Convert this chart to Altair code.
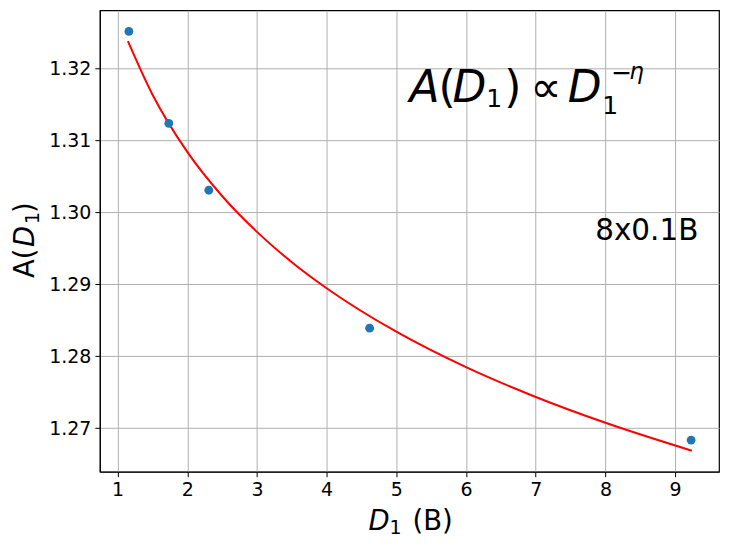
import altair as alt
import pandas as pd

# Measured data points
d1_points = [1.162, 1.735, 2.309, 4.617, 9.23]
a_points = [1.32514, 1.31236, 1.30306, 1.28389, 1.26833]

# Fitted curve
d1_fit = [1.148, 1.5, 2.0, 2.5, 3.0, 3.5, 4.0, 5.0, 6.0, 7.0, 8.0, 9.24]
a_fit = [1.32379, 1.31637, 1.30839, 1.30226, 1.29727, 1.29306, 1.28944,
         1.28339, 1.27846, 1.27432, 1.27073, 1.26685]

x_ticks = [1, 2, 3, 4, 5, 6, 7, 8, 9]
y_ticks = [1.27, 1.28, 1.29, 1.30, 1.31, 1.32]

pts = pd.DataFrame({"x": d1_points, "y": a_points})
fit = pd.DataFrame({"x": d1_fit, "y": a_fit})

FONT = "DejaVu Sans"
xscale = alt.Scale(domain=[0.746, 9.63], nice=False, zero=False)
yscale = alt.Scale(domain=[1.26393, 1.32806], nice=False, zero=False)

common_axis = dict(grid=True, gridColor="#b0b0b0", gridWidth=1,
                   domainColor="black", tickColor="black", tickSize=5,
                   labelFontSize=19, labelColor="black", labelPadding=4,
                   labelFont=FONT, title=None)
xaxis = alt.Axis(values=x_ticks, format="d", **common_axis)
yaxis = alt.Axis(values=y_ticks, format=".2f", **common_axis)

line = alt.Chart(fit).mark_line(color="red", strokeWidth=2,
                                interpolate="monotone").encode(
    x=alt.X("x:Q", scale=xscale, axis=xaxis),
    y=alt.Y("y:Q", scale=yscale, axis=yaxis),
)
scatter = alt.Chart(pts).mark_circle(color="#1f77b4", size=78, opacity=1).encode(
    x=alt.X("x:Q", scale=xscale),
    y=alt.Y("y:Q", scale=yscale),
)

# text pieces: (text, px from plot left, px from plot top, size, style, angle)
pieces = [
    # formula
    ("A", 310, 91.7, 44, "italic", 0),
    ("(", 339, 91.7, 44, "normal", 0),
    ("D", 353, 91.7, 44, "italic", 0),
    ("1", 387, 96.7, 25, "normal", 0),
    (")", 405, 91.7, 44, "normal", 0),
    ("∝", 431, 91.7, 44, "normal", 0),
    ("D", 468.5, 91.7, 44, "italic", 0),
    ("1", 503, 103.3, 25, "normal", 0),
    ("−", 512, 71, 25, "normal", 0),
    ("η", 530, 69, 23, "italic", 0),
    # label
    ("8x0.1B", 496, 230, 29.5, "normal", 0),
    # x-axis title
    ("D", 269, 520, 27.5, "italic", 0),
    ("1", 290, 524.5, 19, "normal", 0),
    ("(B)", 313, 520, 27.5, "normal", 0),
    # y-axis title (rotated)
    ("A(", -65.7, 268, 27.5, "normal", 270),
    ("D", -65.7, 237, 27.5, "italic", 270),
    ("1", -60.7, 214, 19, "normal", 270),
    (")", -65.7, 203, 27.5, "normal", 270),
]

texts = []
for t, px, py, sz, st, ang in pieces:
    kw = dict(align="left", baseline="alphabetic", font=FONT, fontSize=sz,
              fontStyle=st, color="black")
    if ang:
        kw["angle"] = ang
    texts.append(
        alt.Chart(pd.DataFrame({"t": [t]})).mark_text(**kw).encode(
            x=alt.value(px), y=alt.value(py), text="t:N")
    )

chart = (
    alt.layer(line, scatter, *texts)
    .properties(width=620, height=462,
                padding={"left": 4, "top": 2, "right": 2, "bottom": 0})
    .configure(background="white")
    .configure_view(stroke="black", strokeWidth=1.2)
)

chart.save("out.html", embed_options={"renderer": "svg", "actions": False})
